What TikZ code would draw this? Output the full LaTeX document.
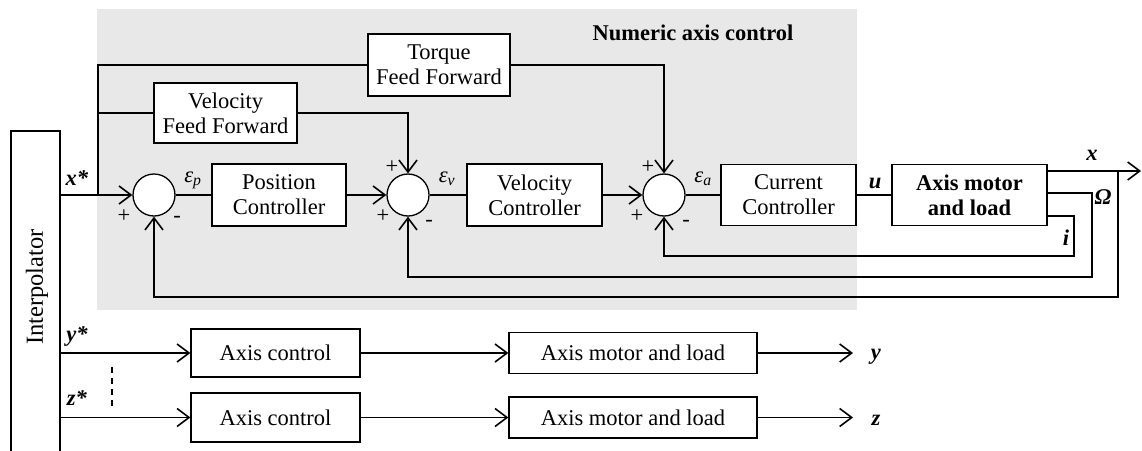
\documentclass[tikz,border=0pt]{standalone}
\usepackage{fontspec}
\setmainfont{Liberation Serif}
\usetikzlibrary{arrows.meta}

\definecolor{panelgray}{RGB}{232,232,232}
\tikzset{
  block/.style={draw, fill=white, line width=1.3pt, align=center, inner sep=0pt},
  sum/.style={circle, draw, fill=white, line width=1.3pt, minimum size=42pt, inner sep=0pt},
  wire/.style={line width=1.3pt},
  feed/.style={line width=1.6pt, -{Straight Barb[length=12pt,width=18pt,line width=1.6pt]}},
}

\begin{document}
\begin{tikzpicture}[x=1pt, y=-1pt, font=\fontsize{22.5}{25}\selectfont]

            \useasboundingbox (0,0) rectangle (1142,450);
            \fill[panelgray] (97,9) rectangle (857,310);
            \node (title) at (693,33) {\textbf{Numeric axis control}};

            \node (interp) at (35.5,300) [draw, line width=1.3pt, minimum width=49pt, minimum height=338pt] {};
            \node (interp-text) at (37,287) [rotate=90, font=\fontsize{24.5}{26}\selectfont] {Interpolator};

            \node (sum-1) at (154,195) [sum] {};
            \node (sum-2) at (408,195) [sum] {};
            \node (sum-3) at (664,195) [sum] {};

            \node (pos) at (279,195) [block, minimum width=134pt, minimum height=62pt] {Position\\Controller};
            \node (vel) at (534.5,195) [block, minimum width=135pt, minimum height=62pt] {Velocity\\Controller};
            \node (cur) at (788.5,195) [block, minimum width=135pt, minimum height=61pt] {Current\\Controller};
            \node (motor) at (969.5,195) [block, minimum width=155pt, minimum height=61pt] {\textbf{Axis motor}\\\textbf{and load}};

            \node (vff) at (225.5,113) [block, minimum width=143pt, minimum height=60pt] {Velocity\\Feed Forward};
            \node (tff) at (439,65) [block, minimum width=142pt, minimum height=62pt] {Torque\\Feed Forward};

            \node (ac-1) at (275.5,353) [block, minimum width=169pt, minimum height=48pt] {Axis control};
            \node (ac-2) at (275.5,417.5) [block, minimum width=169pt, minimum height=49pt] {Axis control};
            \node (am-1) at (633,353) [block, minimum width=248pt, minimum height=41pt] {Axis motor and load};
            \node (am-2) at (633,417.5) [block, minimum width=248pt, minimum height=41pt] {Axis motor and load};

            \coordinate (split) at (98,195);
            \coordinate (x-out) at (1047,171);
            \coordinate (w-out) at (1047,193);
            \coordinate (i-out) at (1047,216);
            \coordinate (x-tap) at (1118,171);
            \coordinate (x-end) at (1141,171);
            \coordinate (y-end) at (853,353);
            \coordinate (z-end) at (853,417.5);

            \draw[feed] (interp.east |- sum-1) -- (sum-1);
            \draw[wire] (split) |- (tff);
            \draw[wire] (split |- vff) -- (vff);
            \draw[feed] (vff) -| (sum-2);
            \draw[feed] (tff) -| (sum-3);

            \draw[wire] (sum-1) -- (pos);
            \draw[feed] (pos) -- (sum-2);
            \draw[wire] (sum-2) -- (vel);
            \draw[feed] (vel) -- (sum-3);
            \draw[wire] (sum-3) -- (cur);
            \draw[wire] (cur) -- (motor);

            \draw[feed] (x-out) -- (x-end);
            \draw[feed] (x-tap) -- (1118,297) -| (sum-1);
            \draw[feed] (w-out) -| (1092,277) -| (sum-2);
            \draw[feed] (i-out) -| (1074,256) -| (sum-3);

            \draw[feed] (interp.east |- ac-1) -- (ac-1);
            \draw[feed] (interp.east |- ac-2) -- (ac-2);
            \draw[feed] (ac-1) -- (am-1);
            \draw[feed] (ac-2) -- (am-2);
            \draw[feed] (am-1) -- (y-end);
            \draw[feed] (am-2) -- (z-end);
            \draw[wire, dash pattern=on 6pt off 5pt] (112,367) -- (112,409);

            % signal labels
            \node (lbl-xs) at (77,178) {\textbf{\textit{x*}}};
            \node (lbl-ys) at (77,336) {\textbf{\textit{y*}}};
            \node (lbl-zs) at (77,398) {\textbf{\textit{z*}}};
            \node (lbl-ep) at (193,180) {\textit{ε}\textsubscript{\textit{p}}};
            \node (lbl-ev) at (447,179) {\textit{ε}\textsubscript{\textit{v}}};
            \node (lbl-ea) at (703,179) {\textit{ε}\textsubscript{\textit{a}}};
            \node (lbl-u) at (875,183) {\textbf{\textit{u}}};
            \node (lbl-x) at (1092,155) {\textbf{\textit{x}}};
            \node (lbl-w) at (1103,197) {\textbf{\textit{Ω}}};
            \node (lbl-i) at (1066,238) {\textbf{\textit{i}}};
            \node (lbl-y) at (876,357) {\textbf{\textit{y}}};
            \node (lbl-z) at (876,420) {\textbf{\textit{z}}};

            % signs
            \node (p-1) at (124,216) {+};
            \node (m-1) at (177,219) {-};
            \node (p-2a) at (392,167) {+};
            \node (p-2b) at (383,216) {+};
            \node (m-2) at (429,223) {-};
            \node (p-3a) at (648,167) {+};
            \node (p-3b) at (637,216) {+};
            \node (m-3) at (686,223) {-};

\end{tikzpicture}
\end{document}
